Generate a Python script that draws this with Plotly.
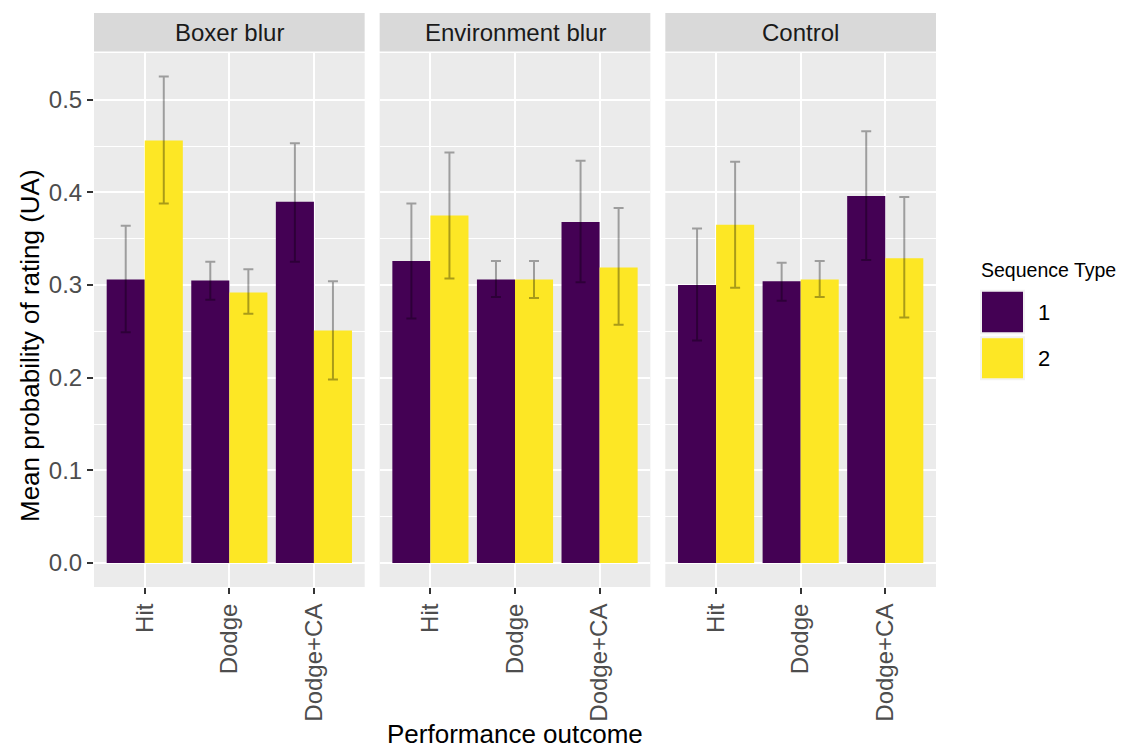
import plotly.graph_objects as go
from plotly.subplots import make_subplots

panels = ["Boxer blur", "Environment blur", "Control"]
outcomes = ["Hit", "Dodge", "Dodge+CA"]
seq_types = ["1", "2"]

# mean, upper and lower limits of the error bars, per panel (Hit, Dodge, Dodge+CA)
mean_1 = {
    "Boxer blur": [0.306, 0.305, 0.390],
    "Environment blur": [0.326, 0.306, 0.368],
    "Control": [0.300, 0.304, 0.396],
}
upper_1 = {
    "Boxer blur": [0.364, 0.325, 0.453],
    "Environment blur": [0.388, 0.326, 0.434],
    "Control": [0.361, 0.324, 0.466],
}
lower_1 = {
    "Boxer blur": [0.249, 0.284, 0.325],
    "Environment blur": [0.264, 0.287, 0.303],
    "Control": [0.240, 0.283, 0.327],
}
mean_2 = {
    "Boxer blur": [0.456, 0.292, 0.251],
    "Environment blur": [0.375, 0.306, 0.319],
    "Control": [0.365, 0.306, 0.329],
}
upper_2 = {
    "Boxer blur": [0.525, 0.317, 0.304],
    "Environment blur": [0.443, 0.326, 0.383],
    "Control": [0.433, 0.326, 0.395],
}
lower_2 = {
    "Boxer blur": [0.388, 0.269, 0.198],
    "Environment blur": [0.307, 0.286, 0.257],
    "Control": [0.297, 0.287, 0.265],
}

purple = "#440154"
yellow = "#FDE725"
font = "Liberation Sans, Arial, sans-serif"

# body margin is removed in the page (post_script), so figure = window
W, H = 1124, 749
ml, mt = 94, 53
mr, mb = W - 936, H - 587
pw, ph = W - ml - mr, H - mt - mb


def px_x(x):
    # screen pixel -> paper coordinate
    return (x - ml) / pw


def px_y(y):
    return 1 - (y - mt) / ph


fig = make_subplots(rows=1, cols=3, shared_yaxes=True, horizontal_spacing=15 / pw)

series = [
    ("1", mean_1, upper_1, lower_1, purple),
    ("2", mean_2, upper_2, lower_2, yellow),
]

for col, panel in enumerate(panels, start=1):
    for name, means, ups, lows, color in series:
        m = means[panel]
        fig.add_trace(go.Bar(
            x=outcomes,
            y=m,
            name=name,
            marker_color=color,
            marker_line_width=0,
            showlegend=False,
            error_y=dict(
                type="data",
                symmetric=False,
                array=[u - v for u, v in zip(ups[panel], m)],
                arrayminus=[v - l for v, l in zip(m, lows[panel])],
                color="rgba(0,0,0,0.33)",
                thickness=2,
                width=5,
            ),
        ), row=1, col=col)

    # strip
    xd = "x domain" if col == 1 else f"x{col} domain"
    yd = "y domain" if col == 1 else f"y{col} domain"
    fig.add_shape(type="rect", xref=xd, yref=yd, x0=0, x1=1,
                  y0=1 + 1.5 / ph, y1=1 + 40 / ph,
                  fillcolor="#D9D9D9", line_width=0, layer="below")
    fig.add_annotation(xref=xd, yref=yd, x=0.5, y=1 + 21 / ph,
                       text=panel, showarrow=False, yanchor="middle",
                       font=dict(size=24, color="#1A1A1A", family=font))

fig.update_xaxes(
    type="category",
    categoryorder="array",
    categoryarray=outcomes,
    range=[-0.6, 2.6],
    showgrid=True,
    gridcolor="white",
    gridwidth=2,
    ticks="outside",
    ticklen=6,
    tickwidth=1.5,
    tickcolor="#333333",
    tickangle=-90,
    tickfont=dict(size=24, color="#4D4D4D", family=font),
    zeroline=False,
    showline=False,
)

fig.update_yaxes(
    range=[-0.0259, 0.5504],
    dtick=0.1,
    tick0=0,
    tickformat=".1f",
    showgrid=True,
    gridcolor="white",
    gridwidth=2,
    minor=dict(dtick=0.05, tick0=0, showgrid=True, gridcolor="white", gridwidth=1),
    zeroline=False,
    showline=False,
)
fig.update_yaxes(
    ticks="outside",
    ticklen=6,
    tickwidth=1.5,
    tickcolor="#333333",
    tickfont=dict(size=24, color="#4D4D4D", family=font),
    row=1, col=1,
)

# legend keys
keys = [(290.7, 333.3), (337.3, 379.3)]
for (y0, y1), color, label in zip(keys, [purple, yellow], seq_types):
    fig.add_shape(type="rect", xref="paper", yref="paper",
                  x0=px_x(981), x1=px_x(1024),
                  y0=px_y(y1), y1=px_y(y0),
                  fillcolor=color, line=dict(color="#F2F2F2", width=2))
    fig.add_annotation(xref="paper", yref="paper", x=px_x(1036), y=px_y((y0 + y1) / 2),
                       text=label, showarrow=False, xanchor="left", yanchor="middle",
                       font=dict(size=22, color="black", family=font))

fig.add_annotation(xref="paper", yref="paper", x=px_x(979), y=px_y(270),
                   text="Sequence Type", showarrow=False, xanchor="left", yanchor="middle",
                   font=dict(size=19.5, color="black", family=font))

# axis titles
fig.add_annotation(xref="paper", yref="paper", x=0.5, y=px_y(734),
                   text="Performance outcome", showarrow=False, yanchor="middle",
                   font=dict(size=26, color="black", family=font))
fig.add_annotation(xref="paper", yref="paper", x=px_x(30), y=px_y(346),
                   text="Mean probability of rating (UA)", showarrow=False,
                   textangle=-90, xanchor="center", yanchor="middle",
                   font=dict(size=26, color="black", family=font))

fig.update_layout(
    width=W,
    height=H,
    margin=dict(l=ml, r=mr, t=mt, b=mb),
    paper_bgcolor="white",
    plot_bgcolor="#EBEBEB",
    barmode="group",
    bargap=0.1,
    bargroupgap=0,
    showlegend=False,
    font=dict(family=font),
)

fig.write_html("out.html",
               config={"displayModeBar": False},
               post_script="document.body.style.margin='0';document.body.style.overflow='hidden';")
